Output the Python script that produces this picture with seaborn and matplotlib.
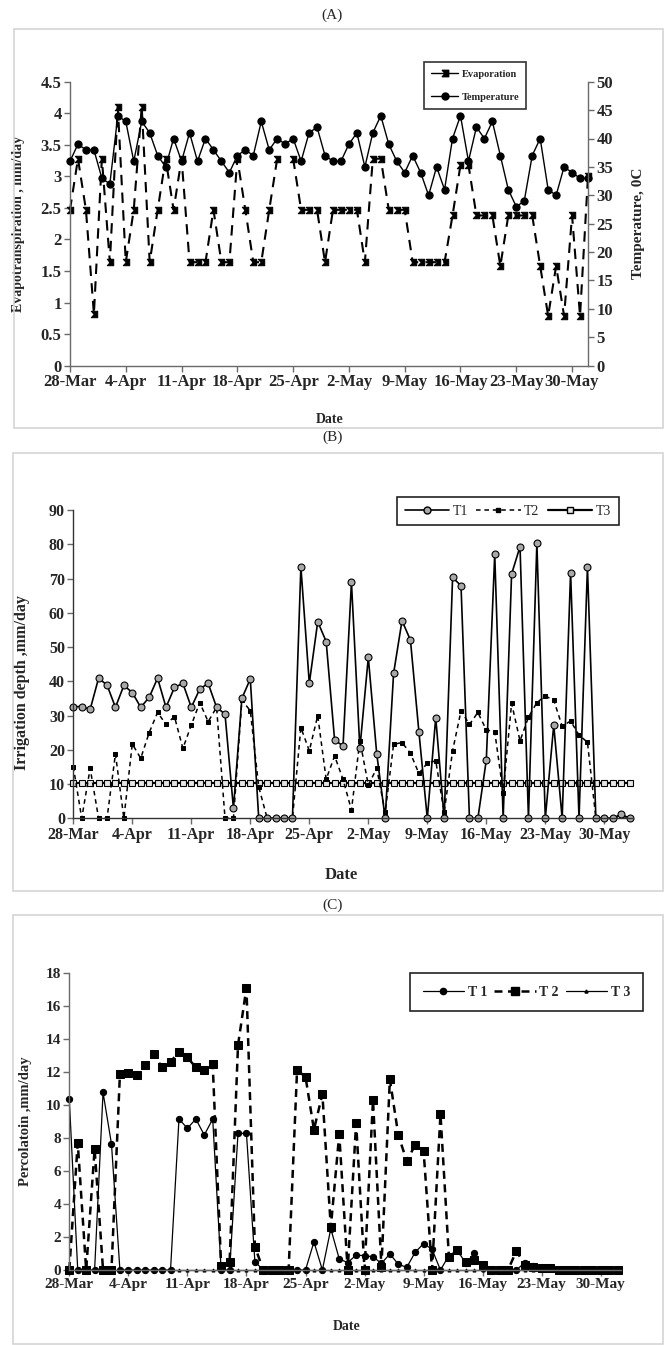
import matplotlib
matplotlib.use("Agg")
import matplotlib.pyplot as plt
from matplotlib.lines import Line2D
from matplotlib.patches import Rectangle
from matplotlib.path import Path
import numpy as np
import pandas as pd
import seaborn as sns

# ---- data -------------------------------------------------------------
week_labels = ["28-Mar", "4-Apr", "11-Apr", "18-Apr", "25-Apr",
               "2-May", "9-May", "16-May", "23-May", "30-May"]
dates_ac = pd.date_range("2015-03-28", "2015-06-01")   # 66 days
dates_b = pd.date_range("2015-03-28", "2015-06-02")    # 67 days

# (A) mm/day and deg C
evaporation = [2.47, 3.28, 2.47, 0.82, 3.28, 1.64, 4.10, 1.64, 2.47, 4.10,
               1.64, 2.47, 3.28, 2.47, 3.28, 1.64, 1.64, 1.64, 2.47, 1.64,
               1.64, 3.28, 2.47, 1.64, 1.64, 2.47, 3.28, np.nan, 3.28, 2.47,
               2.47, 2.47, 1.64, 2.47, 2.47, 2.47, 2.47, 1.64, 3.28, 3.28,
               2.47, 2.47, 2.47, 1.64, 1.64, 1.64, 1.64, 1.64, 2.38, 3.18,
               3.18, 2.38, 2.38, 2.38, 1.58, 2.38, 2.38, 2.38, 2.38, 1.58,
               0.79, 1.58, 0.79, 2.38, 0.79, 3.00]
temperature = [36, 39, 38, 38, 33, 32, 44, 43, 36, 43,
               41, 37, 35, 40, 36, 41, 36, 40, 38, 36,
               34, 37, 38, 37, 43, 38, 40, 39, 40, 36,
               41, 42, 37, 36, 36, 39, 41, 35, 41, 44,
               39, 36, 34, 37, 34, 30, 35, 31, 40, 44,
               36, 42, 40, 43, 37, 31, 28, 29, 37, 40,
               31, 30, 35, 34, 33, 33]

# (B) irrigation depth, mm/day
irr_t1 = [32.6, 32.6, 31.8, 40.9, 38.9, 32.4, 38.8, 36.7, 32.4, 35.3,
          40.9, 32.4, 38.2, 39.4, 32.4, 37.7, 39.4, 32.4, 30.4, 2.9,
          35.0, 40.7, 0, 0, 0, 0, 0, 73.4, 39.4, 57.4,
          51.6, 22.9, 21.1, 68.9, 20.4, 47.0, 18.8, 0, 42.3, 57.7,
          52.0, 25.3, 0, 29.4, 0, 70.3, 67.9, 0, 0, 17.0,
          77.1, 0, 71.3, 79.3, 0, 80.4, 0, 27.2, 0, 71.7,
          0, 73.4, 0, 0, 0, 1.2, 0]
irr_t2 = [15.1, 0, 14.6, 0, 0, 18.8, 0, 21.7, 17.5, 25.0,
          30.9, 27.4, 29.7, 20.4, 27.2, 33.8, 28.2, 32.4, 0, 0,
          34.5, 31.4, 9.2, 0, 0, 0, 0, 26.5, 19.7, 30.0,
          11.4, 18.2, 11.4, 2.4, 22.7, 9.7, 14.6, 1.7, 21.6, 22.1,
          19.0, 13.1, 16.1, 16.8, 1.7, 19.7, 31.4, 27.4, 30.9, 25.8,
          25.3, 7.5, 33.6, 22.6, 29.5, 33.8, 35.7, 34.5, 26.9, 28.4,
          24.3, 22.2, 0, 0, 0, 0.7, 0]
irr_t3 = [10.2] * 67

# (C) percolation, mm/day
perc_t1 = [10.33, 0, 0, 0, 10.75, 7.63, 0, 0, 0, 0,
           0, 0, 0, 9.14, 8.58, 9.14, 8.17, 9.14, 0, 0,
           8.27, 8.27, 0.5, 0, 0, 0, 0, 0, 0, 1.7,
           0, 2.5, 0.67, 0.45, 0.9, 0.87, 0.8, 0.4, 0.97, 0.35,
           0.16, 1.07, 1.6, 1.25, 0, 0.87, 1.2, 0.4, 1.0, 0.1,
           0, 0, 0, 0, 0.45, 0.25, 0.1, 0.15, 0, 0,
           0, 0, 0, 0, 0, 0]
perc_t2 = [0, 7.7, 0, 7.33, 0, 0, 11.85, 11.95, 11.8, 12.39,
           13.05, 12.27, 12.61, 13.2, 12.87, 12.27, 12.1, 12.45, 0.24, 0.46,
           13.62, 17.09, 1.41, 0, 0, 0, 0, 12.1, 11.7, 8.5,
           10.65, 2.58, 8.23, 0, 8.9, 0, 10.3, 0.2, 11.55, 8.17,
           6.6, 7.57, 7.2, 0, 9.44, 0.8, 1.2, 0.5, 0.6, 0.3,
           0, 0, 0, 1.15, 0.3, 0.2, 0.1, 0.1, 0, 0,
           0, 0, 0, 0, 0, 0]
perc_t3 = [0] * 66

# ---- style ------------------------------------------------------------
sns.set_style("ticks")
plt.rcParams["font.family"] = ["Liberation Serif", "DejaVu Serif"]
plt.rcParams["font.weight"] = "bold"
plt.rcParams["axes.labelweight"] = "bold"

W, H = 665, 1345
AXC = "#6a6a6a"


def fx(px):
    return px / W


def fy(py):
    return 1 - py / H


def add_axes(x0, y0, x1, y1):
    return fig.add_axes([fx(x0), fy(y1), fx(x1) - fx(x0), fy(y0) - fy(y1)])


def style(ax, size):
    for s in ax.spines.values():
        s.set_color(AXC)
        s.set_linewidth(1)
    ax.spines["top"].set_visible(False)
    ax.tick_params(direction="out", length=4, width=1, color=AXC,
                   labelsize=size, pad=2)


bowtie = Path([(-1, -1), (1, -1), (1, 1), (-1, 1), (-0.1, 0), (-1, -1)],
              [Path.MOVETO, Path.LINETO, Path.LINETO, Path.LINETO,
               Path.LINETO, Path.CLOSEPOLY])

fig = plt.figure(figsize=(W / 100, H / 100), dpi=100)

# panel frames and titles
for (x0, y0, x1, y1) in [(14, 29, 663, 428), (13, 453, 663, 891), (13, 915, 663, 1344)]:
    fig.add_artist(Rectangle((fx(x0), fy(y1)), fx(x1) - fx(x0), fy(y0) - fy(y1),
                             transform=fig.transFigure, fill=False,
                             edgecolor="#d4d4d4", lw=1.2))
for txt, y in [("(A)", 15), ("(B)", 437), ("(C)", 905)]:
    fig.text(0.5, fy(y), txt, ha="center", va="center", fontsize=11,
             fontweight="normal")

# ---- (A) --------------------------------------------------------------
ax = add_axes(70, 81.7, 588, 365.7)
ax2 = ax.twinx()
seg = np.cumsum(np.isnan(evaporation))
sns.lineplot(x=dates_ac, y=evaporation, units=seg, estimator=None, ax=ax,
             color="k", lw=1.5, linestyle=(0, (5, 3.5)), marker=bowtie, ms=4.6,
             mfc="k", mec="k", legend=False, clip_on=False)
sns.lineplot(x=dates_ac, y=temperature, estimator=None, ax=ax2,
             color="k", lw=1.0, marker="o", ms=5.2, mfc="k", mec="k",
             legend=False, clip_on=False)
ax.set_ylim(0, 4.5)
ax.set_yticks(np.arange(0, 4.51, 0.5))
ax.set_yticklabels(["0", "0.5", "1", "1.5", "2", "2.5", "3", "3.5", "4", "4.5"])
ax2.set_ylim(0, 50)
ax2.set_yticks(np.arange(0, 51, 5))
ax.set_xlim(dates_ac[0], dates_ac[0] + pd.Timedelta(days=65))
ax.set_xticks(dates_ac[::7])
ax.set_xticklabels(week_labels)
style(ax, 12)
style(ax2, 12)
ax.spines["right"].set_visible(False)
ax2.spines["left"].set_visible(False)
ax2.spines["bottom"].set_visible(False)
ax.set_xlabel("Date", fontsize=10)
ax.xaxis.set_label_coords(0.502, -0.167)
ax.set_ylabel("Evapotranspiration , mm/day", fontsize=10)
ax.yaxis.set_label_coords(-0.087, 0.5)
ax2.set_ylabel("Temperature, 0C", fontsize=11)
ax2.yaxis.set_label_coords(1.085, 0.5)

hA = [Line2D([], [], color="k", lw=1.0, marker=bowtie, ms=4.6, mfc="k", mec="k",
             label="Evaporation"),
      Line2D([], [], color="k", lw=1.0, marker="o", ms=5, mfc="k", mec="k",
             label="Temperature")]
legA = ax2.legend(handles=hA, loc="upper left", bbox_to_anchor=(fx(424), fy(62)),
                  bbox_transform=fig.transFigure, prop={"size": 7.5, "weight": "bold"},
                  frameon=True, fancybox=False, framealpha=1, edgecolor="#333333",
                  handlelength=2.6, labelspacing=1.35, borderpad=0.7,
                  handletextpad=0.3, borderaxespad=0)
legA.get_frame().set_linewidth(1.2)

# ---- (B) --------------------------------------------------------------
bx = add_axes(73.3, 510, 631.7, 818.3)
sns.lineplot(x=dates_b, y=irr_t3, estimator=None, ax=bx, color="k", lw=1.6,
             marker="s", ms=4.5, mfc="#e6e6e6", mec="k", mew=0.8,
             legend=False, clip_on=False)
sns.lineplot(x=dates_b, y=irr_t2, estimator=None, ax=bx, color="k", lw=1.1,
             linestyle=(0, (3, 2.5)), marker="s", ms=3.3, mfc="k", mec="k",
             legend=False, clip_on=False)
sns.lineplot(x=dates_b, y=irr_t1, estimator=None, ax=bx, color="k", lw=1.2,
             marker="o", ms=5, mfc="#a8a8a8", mec="k", mew=0.8,
             legend=False, clip_on=False)
bx.set_ylim(0, 90)
bx.set_yticks(np.arange(0, 91, 10))
bx.set_xlim(dates_b[0], dates_b[0] + pd.Timedelta(days=66.25))
bx.set_xticks(dates_b[::7])
bx.set_xticklabels(week_labels)
style(bx, 11.5)
bx.spines["right"].set_visible(False)
for s in ("left", "bottom"):
    bx.spines[s].set_color("#333333")
bx.set_xlabel("Date", fontsize=12)
bx.xaxis.set_label_coords(0.479, -0.157)
bx.set_ylabel("Irrigation depth ,mm/day", fontsize=11.5)
bx.yaxis.set_label_coords(-0.078, 0.44)

hB = [Line2D([], [], color="k", lw=1.2, marker="o", ms=5, mfc="#a8a8a8", mec="k",
             label="T1"),
      Line2D([], [], color="k", lw=1.1, linestyle=(0, (3, 2.5)), marker="s", ms=3.3,
             mfc="k", mec="k", label="T2"),
      Line2D([], [], color="k", lw=1.6, marker="s", ms=4.5, mfc="#e6e6e6", mec="k",
             label="T3")]
legB = bx.legend(handles=hB, loc="upper left", bbox_to_anchor=(fx(397), fy(497)),
                 bbox_transform=fig.transFigure, ncol=3,
                 prop={"size": 10, "weight": "normal"}, frameon=True, fancybox=False,
                 framealpha=1, edgecolor="#222222", handlelength=3.2,
                 columnspacing=0.6, handletextpad=0.25, borderpad=0.55,
                 borderaxespad=0)
legB.get_frame().set_linewidth(1.2)

# ---- (C) --------------------------------------------------------------
cx = add_axes(69.3, 972.7, 621, 1270)
sns.lineplot(x=dates_ac, y=perc_t3, estimator=None, ax=cx, color="k", lw=0.9,
             marker="^", ms=2.2, mfc="k", mec="k", legend=False, clip_on=False)
sns.lineplot(x=dates_ac, y=perc_t2, estimator=None, ax=cx, color="k", lw=1.8,
             linestyle=(0, (3.2, 2.2)), marker="s", ms=5.2, mfc="k", mec="k",
             legend=False, clip_on=False)
sns.lineplot(x=dates_ac, y=perc_t1, estimator=None, ax=cx, color="k", lw=0.9,
             marker="o", ms=4.5, mfc="k", mec="k", legend=False, clip_on=False)
cx.set_ylim(0, 18)
cx.set_yticks(np.arange(0, 19, 2))
cx.set_xlim(dates_ac[0], dates_ac[0] + pd.Timedelta(days=65.4))
cx.set_xticks(dates_ac[::7])
cx.set_xticklabels(week_labels)
style(cx, 11)
cx.spines["right"].set_visible(False)
cx.set_xlabel("Date", fontsize=10)
cx.xaxis.set_label_coords(0.503, -0.168)
cx.set_ylabel("Percolatoin ,mm/day", fontsize=10.5)
cx.yaxis.set_label_coords(-0.068, 0.502)

hC = [Line2D([], [], color="k", lw=0.9, marker="o", ms=4.5, mfc="k", mec="k",
             label="T 1"),
      Line2D([], [], color="k", lw=1.8, linestyle=(0, (3.2, 2.2)), marker="s",
             ms=5.2, mfc="k", mec="k", label="T 2"),
      Line2D([], [], color="k", lw=0.9, marker="^", ms=2.2, mfc="k", mec="k",
             label="T 3")]
legC = cx.legend(handles=hC, loc="upper left", bbox_to_anchor=(fx(410), fy(973)),
                 bbox_transform=fig.transFigure, ncol=3,
                 prop={"size": 10, "weight": "bold"}, frameon=True, fancybox=False,
                 framealpha=1, edgecolor="#222222", handlelength=3.0,
                 columnspacing=0.5, handletextpad=0.25, borderpad=0.9,
                 borderaxespad=0)
legC.get_frame().set_linewidth(1.2)

fig.savefig("out.png", dpi=100)
